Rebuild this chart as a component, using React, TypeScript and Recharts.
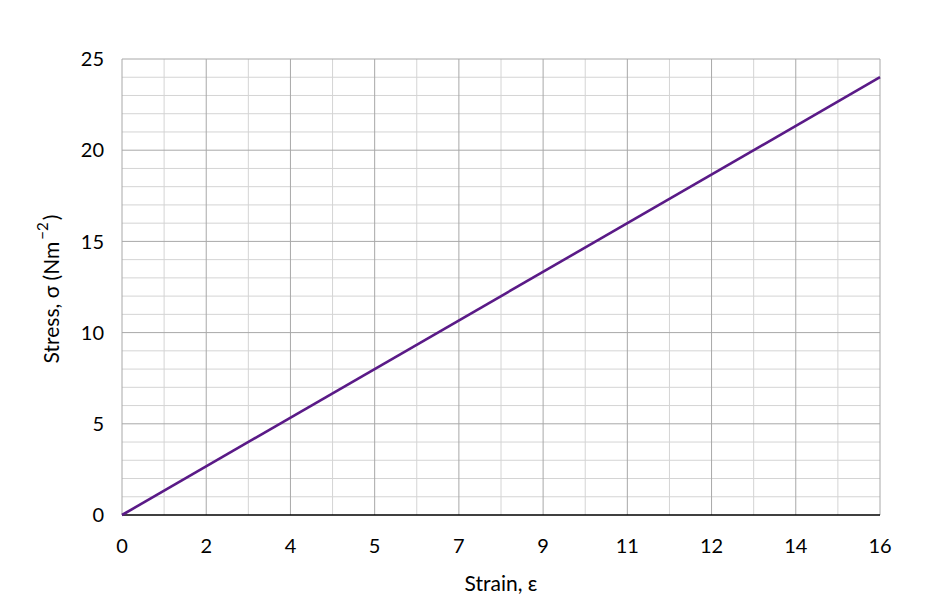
import React from "react";
import { LineChart, Line, XAxis, YAxis, ReferenceLine } from "recharts";

const strain = [0, 16];
const stress = [0, 24];
const xTicks = [0, 16 / 9, 32 / 9, 48 / 9, 64 / 9, 80 / 9, 96 / 9, 112 / 9, 128 / 9, 16];
const yTicks = [0, 5, 10, 15, 20, 25];
const yMinor = [1, 2, 3, 4, 6, 7, 8, 9, 11, 12, 13, 14, 16, 17, 18, 19, 21, 22, 23, 24];

const data = strain.map((x, i) => ({ x, y: stress[i] }));
const xMinor = xTicks.slice(1).map((t, i) => (t + xTicks[i]) / 2);

const FONT = "Lato, 'Open Sans', sans-serif";

const YLabel = (props: any) => {
  const vb = props.viewBox || {};
  const cx = 42;
  const cy = vb.y + vb.height / 2 + 2;
  return (
    <text
      x={cx}
      y={cy}
      transform={`rotate(-90, ${cx}, ${cy})`}
      textAnchor="middle"
      dominantBaseline="central"
      fontFamily={FONT}
      fontSize={21}
      fill="#000"
    >
      <tspan>Stress, σ (Nm</tspan>
      <tspan fontSize={15} dx={2} dy={-8}>−2</tspan>
      <tspan dx={2} dy={8}>)</tspan>
    </text>
  );
};

const XLabel = (props: any) => {
  const vb = props.viewBox || {};
  return (
    <text
      x={vb.x + vb.width / 2}
      y={vb.y + 67}
      textAnchor="middle"
      dominantBaseline="central"
      fontFamily={FONT}
      fontSize={21}
      fill="#000"
    >
      Strain, ε
    </text>
  );
};

export default function App() {
  return (
    <LineChart
      width={943}
      height={607}
      data={data}
      margin={{ top: 51, right: 71, bottom: 40, left: 0 }}
    >
      <XAxis
        dataKey="x"
        type="number"
        domain={[0, 16]}
        ticks={xTicks}
        interval={0}
        tickFormatter={(v: number) => String(Math.round(v))}
        tickLine={false}
        axisLine={false}
        tick={{ fontFamily: FONT, fontSize: 20, fill: "#000" }}
        tickMargin={18}
        height={60}
        label={<XLabel />}
      />
      <YAxis
        type="number"
        domain={[0, 25]}
        ticks={yTicks}
        interval={0}
        tickLine={false}
        axisLine={false}
        width={114}
        tick={{ fontFamily: FONT, fontSize: 20, fill: "#000" }}
        tickMargin={12}
        label={<YLabel />}
      />
      {xMinor.map((v) => (
        <ReferenceLine key={`xm${v}`} x={v} stroke="#d4d4d4" strokeWidth={1} />
      ))}
      {yMinor.map((v) => (
        <ReferenceLine key={`ym${v}`} y={v} stroke="#d4d4d4" strokeWidth={1} />
      ))}
      {xTicks.map((v) => (
        <ReferenceLine key={`xM${v}`} x={v} stroke="#a8a8a8" strokeWidth={1} />
      ))}
      {yTicks.slice(1).map((v) => (
        <ReferenceLine key={`yM${v}`} y={v} stroke="#a8a8a8" strokeWidth={1} />
      ))}
      <ReferenceLine y={0} stroke="#000" strokeWidth={1.5} />
      <Line
        type="linear"
        dataKey="y"
        stroke="#5A1A87"
        strokeWidth={2.6}
        dot={false}
        isAnimationActive={false}
      />
    </LineChart>
  );
}
